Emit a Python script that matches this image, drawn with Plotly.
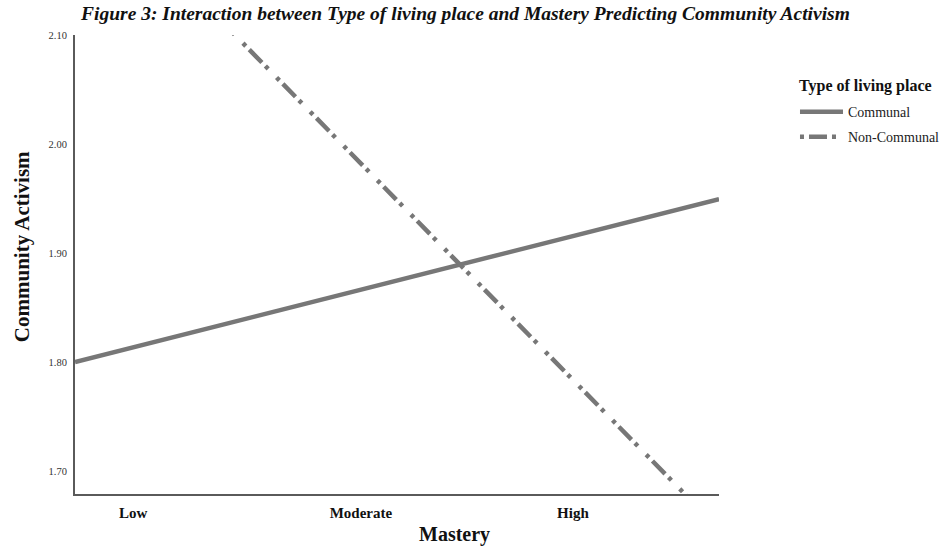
import plotly.graph_objects as go

# Mastery scale positions (continuous), with category labels
mastery_x = [0.736, 1.0, 2.036, 3.0, 3.664]
tick_vals = [1.0, 2.036, 3.0]
tick_labels = ["Low", "Moderate", "High"]

# Predicted Community Activism
communal = [1.800, 1.8135, 1.8664, 1.9156, 1.9495]
non_communal = [2.2497, 2.1954, 1.9821, 1.7837, 1.647]

y_ticks = [1.70, 1.80, 1.90, 2.00, 2.10]

LINE = "#777777"
SERIF = "Liberation Serif"

fig = go.Figure()
fig.add_trace(go.Scatter(
    x=mastery_x, y=communal, mode="lines", name="Communal", legendgroup="a",
    line=dict(color=LINE, width=4.5),
))
fig.add_trace(go.Scatter(
    x=mastery_x, y=non_communal, mode="lines", name="Non-Communal", legendgroup="b",
    line=dict(color=LINE, width=4.5, dash="4px,5px,18px,5px,4px,12px"),
))

fig.update_layout(
    width=948, height=550,
    margin=dict(l=75, r=229, t=35, b=56, autoexpand=False),
    paper_bgcolor="white", plot_bgcolor="white",
    font=dict(family=SERIF, color="#000000"),
    title=dict(
        text="<b><i>Figure 3: Interaction between Type of living place and Mastery Predicting Community Activism</i></b>",
        x=0.491, xanchor="center", y=0.976, yanchor="middle",
        font=dict(family=SERIF, size=19.5, color="#111111"),
    ),
    showlegend=True,
    legend=dict(
        x=1.118, xanchor="left", y=0.867, yanchor="top",
        font=dict(family=SERIF, size=14, color="#222222"),
        itemwidth=43, tracegroupgap=4,
    ),
    annotations=[
        dict(text="<b>Type of living place</b>", xref="paper", yref="paper", x=1.121, y=0.889,
             xanchor="left", yanchor="middle", showarrow=False,
             font=dict(family=SERIF, size=16, color="#111111")),
        dict(text="<b>Mastery</b>", xref="paper", yref="paper", x=0.590, y=-0.0893,
             xanchor="center", yanchor="middle", showarrow=False,
             font=dict(family=SERIF, size=20, color="#111111")),
        dict(text="<b>Community Activism</b>", xref="paper", yref="paper", x=-0.0823, y=0.540,
             xanchor="center", yanchor="middle", textangle=-90, showarrow=False,
             font=dict(family=SERIF, size=21, color="#111111")),
    ],
)
fig.update_xaxes(
    range=[0.736, 3.664], tickvals=tick_vals, ticktext=tick_labels,
    showgrid=False, zeroline=False, showline=True, linecolor="#5a5a5a", linewidth=2,
    ticks="", ticklabelstandoff=4,
    tickfont=dict(family=SERIF, size=15, color="#111111", weight="bold"),
)
fig.update_yaxes(
    range=[1.679, 2.10], tickvals=y_ticks, tickformat=".2f",
    showgrid=False, zeroline=False, showline=True, linecolor="#5a5a5a", linewidth=2,
    ticks="", ticklabelstandoff=4,
    tickfont=dict(family=SERIF, size=10.5, color="#333333"),
)

fig.write_html("out.html", config={"displayModeBar": False},
               post_script="document.body.style.margin='0';")
